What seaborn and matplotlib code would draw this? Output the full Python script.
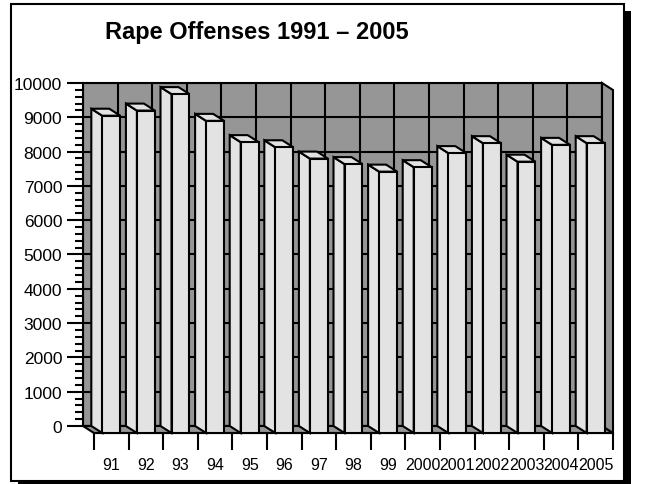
import numpy as np
import pandas as pd
import matplotlib
matplotlib.use("Agg")
import matplotlib.pyplot as plt
from matplotlib.patches import Polygon, Rectangle
from matplotlib.ticker import MultipleLocator, FixedLocator, NullFormatter
import seaborn as sns

# Values
years = ["91", "92", "93", "94", "95", "96", "97", "98", "99",
         "2000", "2001", "2002", "2003", "2004", "2005"]
offenses = [9250, 9400, 9880, 9100, 8480, 8330, 8000, 7840, 7620,
            7750, 8160, 8450, 7910, 8400, 8450]
title = "Rape Offenses 1991 \u2013 2005"

df = pd.DataFrame({"year": years, "offenses": offenses})

sns.set_style("white")
plt.rcParams["font.family"] = ["Liberation Sans", "DejaVu Sans"]
plt.rcParams["text.color"] = "black"
plt.rcParams["xtick.color"] = "black"
plt.rcParams["ytick.color"] = "black"
plt.rcParams["xtick.labelcolor"] = "black"
plt.rcParams["ytick.labelcolor"] = "black"

W, H = 645, 485
fig = plt.figure(figsize=(W / 100, H / 100), dpi=100)


def box(x0, y0, x1, y1):
    # pixel box (top-left origin) -> figure fraction rect
    return [x0 / W, (H - y1) / H, (x1 - x0) / W, (y1 - y0) / H]


# outer frame with drop shadow
fig.add_artist(Rectangle((18 / W, 0), 613 / W, (H - 12) / H,
                         transform=fig.transFigure, facecolor="black",
                         edgecolor="none", zorder=0))
fig.add_artist(Rectangle((11 / W, 3 / H), 613 / W, 477 / H,
                         transform=fig.transFigure, facecolor="white",
                         edgecolor="black", linewidth=1.5, zorder=0.1))

wall = "#969696"
face = "#e3e3e3"
lw = 1.5
n = len(years)
# depth of the 3d box, in data units (11 px left, 7 px up)
DX = -11 / (519 / n)
DY = 7 / (343 / 10000)

# back wall carries the value axis and the grid
ax_back = fig.add_axes(box(83, 84, 602, 427))
ax_back.set_facecolor(wall)
ax_back.set_xlim(-0.5, n - 0.5)
ax_back.set_ylim(0, 10000)
ax_back.set_xticks(np.arange(-0.5, n, 1))
ax_back.tick_params(axis="x", length=0, labelbottom=False)
ax_back.set_yticks(np.arange(0, 10001, 1000))
ax_back.yaxis.set_minor_locator(MultipleLocator(200))
ax_back.tick_params(axis="y", which="major", direction="out", length=11.5,
                    width=lw, labelsize=12.5, pad=3.5, left=True)
ax_back.tick_params(axis="y", which="minor", direction="out", length=6,
                    width=lw, left=True)
ax_back.grid(True, color="black", linewidth=lw)
for s in ax_back.spines.values():
    s.set_color("black")
    s.set_linewidth(lw)
ax_back.set_zorder(1)

# front plane: the bars themselves
ax = fig.add_axes(box(94, 91, 613, 434))
ax.set_zorder(2)
ax.patch.set_alpha(0)
sns.barplot(data=df, x="year", y="offenses", color=face, saturation=1,
            width=0.52, edgecolor="black", linewidth=lw, ax=ax, zorder=3)
ax.set_xlim(-0.5, n - 0.5)
ax.set_ylim(0, 10000)
ax.set_xlabel("")
ax.set_ylabel("")
ax.set_yticks([])
for side in ["left", "right", "top"]:
    ax.spines[side].set_visible(False)
ax.spines["bottom"].set_linewidth(lw)
ax.spines["bottom"].set_color("black")

ax.xaxis.set_major_locator(FixedLocator(np.arange(-0.5, n, 1)))
ax.xaxis.set_major_formatter(NullFormatter())
ax.xaxis.set_minor_locator(FixedLocator(np.arange(n)))
ax.set_xticklabels(years, minor=True)
ax.tick_params(axis="x", which="major", direction="out", length=12,
               width=lw, bottom=True)
ax.tick_params(axis="x", which="minor", length=0, labelsize=11.5, pad=17)

# floor and right wall
x_lo, x_hi = -0.5, n - 0.5
floor = [(x_lo, 0), (x_hi, 0), (x_hi + DX, DY), (x_lo + DX, DY)]
right_wall = [(x_hi, 0), (x_hi, 10000), (x_hi + DX, 10000 + DY), (x_hi + DX, DY)]
for pts in (floor, right_wall):
    ax.add_patch(Polygon(pts, closed=True, facecolor=wall, edgecolor="black",
                         linewidth=lw, clip_on=False, zorder=1))

# side and top faces of each bar
for p in list(ax.patches):
    if not isinstance(p, Rectangle):
        continue
    x0, w, h = p.get_x(), p.get_width(), p.get_height()
    side_face = [(x0, 0), (x0, h), (x0 + DX, h + DY), (x0 + DX, DY)]
    top_face = [(x0, h), (x0 + w, h), (x0 + w + DX, h + DY), (x0 + DX, h + DY)]
    for pts in (side_face, top_face):
        ax.add_patch(Polygon(pts, closed=True, facecolor=face,
                             edgecolor="black", linewidth=lw,
                             clip_on=False, zorder=2))

fig.text(257 / W, 1 - 32 / H, title, ha="center", va="center",
         fontsize=17, fontweight="bold", color="black")

fig.savefig("out.png", dpi=100)
